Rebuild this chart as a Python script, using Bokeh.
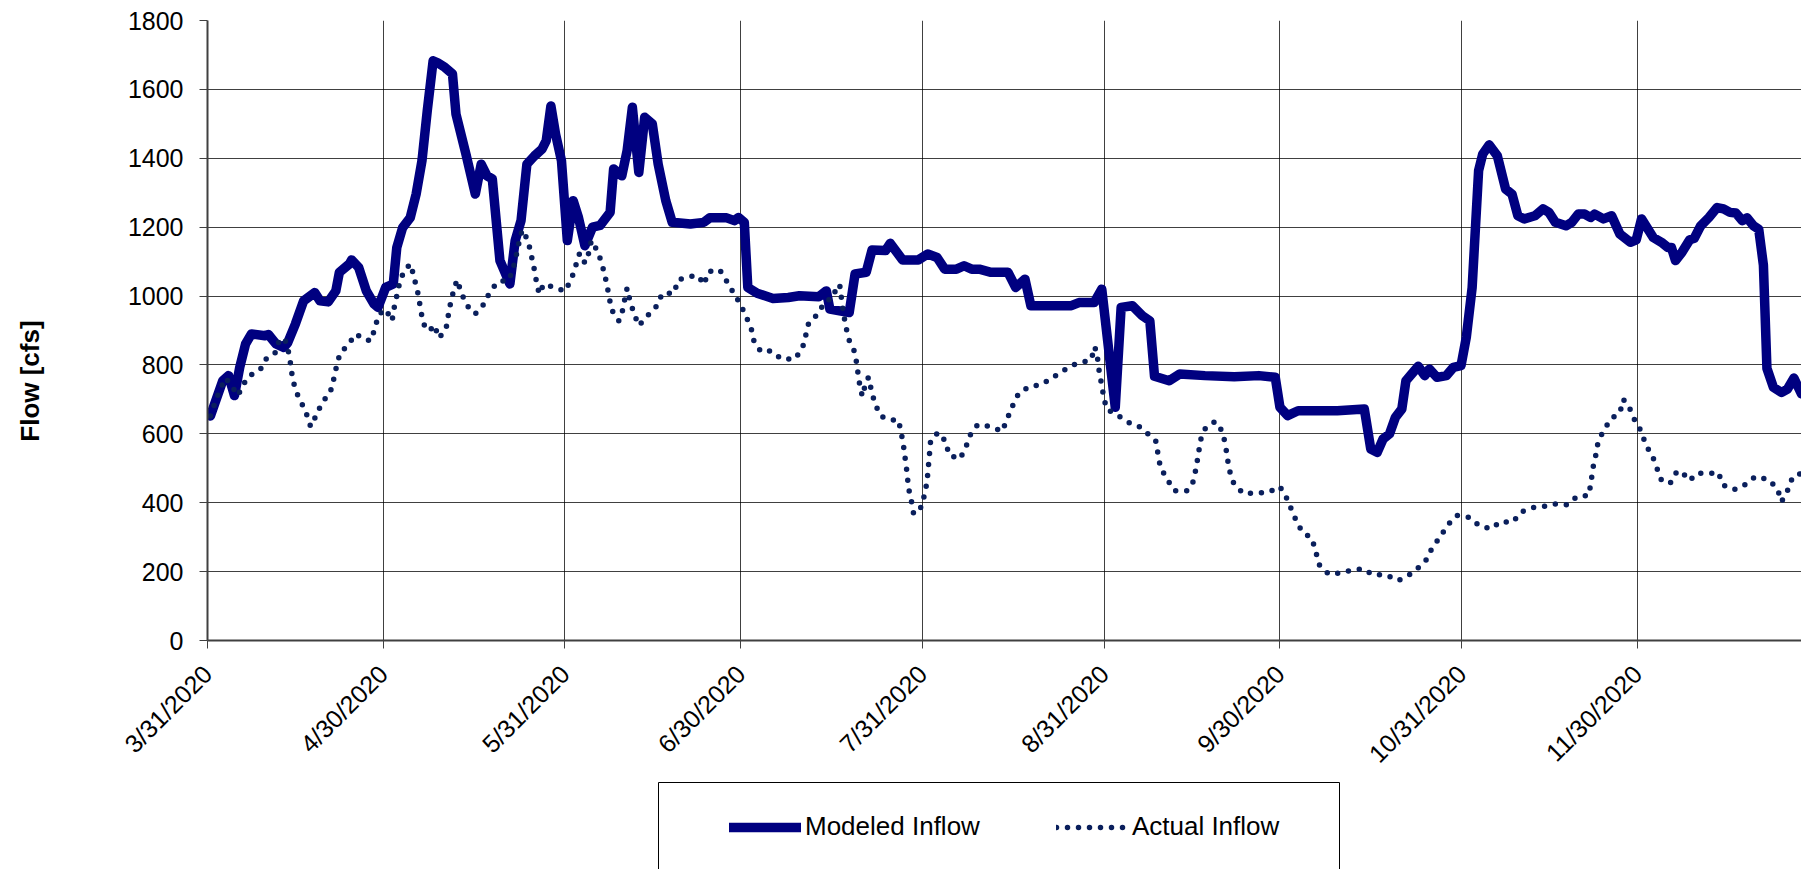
import math
from bokeh.plotting import figure
from bokeh.layouts import column
from bokeh.models import Range1d, FixedTicker, Legend, LegendItem, BoxAnnotation
from bokeh.embed import file_html
from bokeh.resources import INLINE

# x = days after 3/31/2020
tick_days = [0, 30, 61, 91, 122, 153, 183, 214, 244]
tick_labels = ["3/31/2020", "4/30/2020", "5/31/2020", "6/30/2020", "7/31/2020",
               "8/31/2020", "9/30/2020", "10/31/2020", "11/30/2020"]
y_ticks = [0, 200, 400, 600, 800, 1000, 1200, 1400, 1600, 1800]

mod_day = [0.5, 2.6, 3.6, 4.6, 5.5, 6.5, 7.5, 9.8, 10.4, 11.7,
           13.0, 13.7, 15.0, 16.4, 18.3, 19.2, 20.6, 21.9, 22.5, 24.2,
           24.6, 25.8, 27.1, 28.4, 29.1, 30.4, 31.7, 32.3, 33.3, 34.6,
           35.6, 36.6, 37.5, 38.5, 39.2, 40.5, 41.8, 42.4, 44.1, 45.7,
           46.7, 47.7, 48.6, 49.9, 51.6, 52.5, 53.5, 54.5, 55.8, 57.1,
           57.8, 58.6, 59.4, 60.4, 61.4, 62.4, 63.3, 64.4, 65.7, 67.0,
           68.7, 69.3, 70.7, 71.6, 72.5, 73.6, 74.6, 75.9, 76.9, 78.2,
           79.3, 82.4, 84.7, 85.7, 88.6, 89.9, 90.6, 91.6, 92.2, 93.8,
           96.5, 99.1, 101.0, 104.3, 105.6, 106.2, 109.5, 110.5, 112.4, 113.4,
           115.7, 116.5, 118.6, 121.3, 122.9, 124.5, 125.8, 127.8, 129.1, 130.4,
           131.7, 133.7, 136.6, 137.9, 139.5, 140.5, 143.5, 147.4, 148.7, 151.3,
           152.6, 154.9, 155.9, 157.8, 159.5, 160.8, 161.6, 164.1, 165.9, 170.2,
           175.2, 179.4, 182.2, 183.0, 184.3, 186.1, 189.3, 192.8, 197.4, 198.5,
           199.6, 200.6, 201.7, 202.7, 203.8, 204.5, 205.5, 206.6, 207.7, 208.5,
           209.8, 211.4, 212.6, 213.9, 214.8, 215.8, 216.9, 217.6, 218.7, 220.1,
           221.5, 222.6, 223.6, 224.7, 226.5, 227.9, 228.9, 230.0, 231.8, 232.8,
           233.9, 235.0, 236.0, 236.7, 238.2, 239.6, 241.0, 242.8, 243.8, 244.7,
           246.7, 248.1, 249.2, 249.8, 250.5, 251.6, 252.9, 253.7, 254.8, 256.2,
           257.6, 258.7, 259.8, 260.8, 261.9, 262.7, 263.8, 264.7, 265.5, 266.1,
           267.2, 268.6, 269.6, 270.7, 272.0]
mod_val = [652, 754, 769, 711, 793, 861, 890, 885, 888, 861,
           851, 865, 919, 986, 1010, 986, 983, 1015, 1069, 1093,
           1105, 1083, 1015, 977, 967, 1025, 1035, 1141, 1199, 1228,
           1296, 1393, 1538, 1683, 1678, 1664, 1645, 1528, 1412, 1296,
           1383, 1349, 1340, 1103, 1035, 1161, 1219, 1383, 1407, 1427,
           1451, 1552, 1470, 1393, 1161, 1277, 1228, 1146, 1200, 1205,
           1243, 1369, 1349, 1422, 1548, 1359, 1519, 1500, 1383, 1277,
           1214, 1209, 1214, 1227, 1227, 1219, 1228, 1214, 1025, 1008,
           993, 996, 1001, 998, 1015, 962, 952, 1064, 1069, 1134,
           1132, 1153, 1105, 1105, 1122, 1112, 1078, 1078, 1088, 1078,
           1078, 1069, 1069, 1025, 1049, 972, 972, 972, 981, 981,
           1020, 677, 967, 972, 943, 928, 767, 754, 774, 769,
           766, 769, 764, 677, 653, 667, 667, 667, 672, 556,
           546, 585, 600, 648, 672, 754, 774, 796, 769, 788,
           764, 769, 793, 798, 880, 1025, 1364, 1412, 1439, 1407,
           1311, 1296, 1233, 1224, 1233, 1253, 1243, 1214, 1204, 1214,
           1238, 1238, 1228, 1238, 1224, 1233, 1180, 1156, 1163, 1224,
           1170, 1156, 1141, 1141, 1103, 1127, 1163, 1168, 1204, 1228,
           1257, 1253, 1243, 1241, 1219, 1227, 1204, 1194, 1090, 790,
           735, 720, 730, 762, 716]

act_day = [0.5, 1.3, 2.1, 3.1, 4.1, 5.2, 6.1, 7.2, 9.0, 10.1,
           11.6, 12.3, 13.2, 13.8, 14.2, 14.5, 15.1, 16.1, 17.0, 17.6,
           18.6, 19.6, 20.9, 21.5, 22.0, 22.6, 24.0, 25.3, 27.0, 27.9,
           28.6, 29.2, 30.4, 31.5, 31.8, 32.3, 32.8, 33.6, 34.7, 35.2,
           35.8, 36.2, 36.6, 37.2, 38.0, 38.7, 39.5, 40.7, 41.1, 41.5,
           42.1, 42.6, 43.3, 44.2, 45.7, 47.2, 48.2, 49.6, 51.4, 52.2,
           52.7, 53.2, 53.7, 54.7, 55.2, 55.7, 56.1, 56.6, 57.4, 59.6,
           61.0, 62.1, 62.8, 63.5, 64.4, 65.0, 65.5, 66.2, 67.1, 67.7,
           68.2, 68.6, 69.2, 70.2, 70.9, 71.3, 71.6, 72.1, 72.8, 73.6,
           75.1, 76.7, 77.6, 79.6, 80.3, 81.7, 83.1, 83.8, 84.7, 85.5,
           87.4, 88.6, 89.8, 90.9, 91.9, 92.8, 93.3, 94.5, 96.1, 98.0,
           100.2, 101.5, 102.1, 102.6, 104.2, 105.3, 106.8, 107.4, 107.9, 108.2,
           108.5, 108.9, 109.4, 110.4, 110.8, 111.1, 111.5, 111.8, 112.3, 112.8,
           113.3, 113.9, 114.9, 116.7, 117.9, 118.4, 118.8, 119.1, 119.4, 119.6,
           120.1, 120.5, 121.7, 122.4, 122.8, 123.0, 123.2, 123.4, 124.7, 126.0,
           126.5, 128.4, 129.4, 130.2, 131.4, 133.7, 135.6, 136.5, 137.4, 138.4,
           140.2, 142.3, 144.1, 146.0, 147.7, 149.2, 150.8, 151.4, 151.8, 152.1,
           152.5, 152.9, 153.4, 155.4, 157.2, 159.2, 160.8, 161.8, 162.2, 162.6,
           163.8, 165.0, 167.2, 168.3, 168.7, 169.1, 169.4, 170.2, 171.9, 173.1,
           173.7, 174.0, 174.4, 175.1, 176.7, 178.9, 181.1, 183.0, 184.1, 185.0,
           185.9, 186.9, 188.4, 189.1, 189.6, 191.3, 193.2, 195.4, 197.3, 198.8,
           201.1, 203.2, 205.1, 206.8, 208.0, 209.0, 210.4, 211.6, 213.2, 215.3,
           217.1, 219.1, 220.6, 222.7, 224.2, 226.2, 228.0, 230.0, 232.0, 233.7,
           235.7, 236.1, 236.4, 236.9, 237.3, 238.3, 239.6, 241.0, 241.6, 242.6,
           243.5, 244.7, 245.4, 246.6, 247.4, 248.2, 249.7, 250.8, 252.1, 252.9,
           254.2, 256.4, 257.8, 258.6, 260.5, 262.4, 264.1, 266.4, 267.9, 268.6,
           269.7, 270.5, 272.0]
act_val = [652, 691, 728, 762, 740, 711, 743, 769, 786, 820,
           836, 875, 875, 839, 801, 761, 723, 688, 653, 621,
           655, 693, 717, 756, 795, 833, 859, 890, 873, 870,
           909, 946, 962, 928, 962, 1001, 1040, 1076, 1093, 1056,
           1018, 979, 940, 903, 901, 916, 878, 904, 945, 982,
           1023, 1047, 1010, 974, 948, 977, 1013, 1042, 1045, 1083,
           1119, 1159, 1192, 1161, 1122, 1083, 1045, 1006, 1035, 1023,
           1014, 1049, 1086, 1124, 1096, 1122, 1161, 1141, 1105, 1068,
           1029, 990, 952, 928, 962, 1001, 1023, 986, 948, 914,
           943, 972, 1008, 1008, 1047, 1054, 1059, 1058, 1033, 1071,
           1076, 1043, 1008, 977, 941, 904, 865, 838, 841, 817,
           817, 847, 887, 923, 948, 983, 996, 1033, 1030, 991,
           952, 914, 875, 839, 803, 762, 723, 709, 749, 764,
           725, 687, 651, 640, 640, 601, 561, 522, 483, 444,
           406, 367, 386, 425, 464, 503, 541, 582, 604, 577,
           539, 527, 561, 598, 626, 621, 607, 645, 682, 717,
           737, 743, 762, 783, 800, 807, 815, 853, 830, 788,
           749, 711, 672, 653, 633, 619, 595, 580, 541, 503,
           467, 435, 435, 464, 503, 541, 580, 614, 636, 609,
           570, 532, 493, 457, 427, 428, 431, 447, 415, 379,
           343, 313, 298, 261, 222, 193, 196, 205, 208, 191,
           191, 174, 191, 214, 235, 270, 302, 335, 363, 357,
           332, 324, 345, 343, 373, 386, 389, 396, 394, 418,
           421, 461, 500, 538, 577, 612, 645, 661, 700, 677,
           641, 606, 569, 534, 497, 461, 459, 493, 480, 464,
           486, 485, 488, 451, 438, 453, 476, 467, 440, 403,
           438, 475, 486]

FONT = "Liberation Sans"
MOD_STYLE = dict(line_color="#000080", line_width=9.5, line_join="round", line_cap="round")
ACT_STYLE = dict(line_color="#0a1f5c", line_width=5.5, line_dash="0 11",
                 line_cap="round", line_join="round")

# ---- main chart ----
p = figure(width=1801, height=780, output_backend="svg", toolbar_location=None,
           x_range=Range1d(0, 272.0), y_range=Range1d(0, 1800),
           min_border_left=207, min_border_right=0, min_border_top=20,
           min_border_bottom=140)
p.outline_line_color = None
p.background_fill_color = "white"
p.border_fill_color = "white"

for ax in (p.xaxis[0], p.yaxis[0]):
    ax.axis_line_color = "#404040"
    ax.axis_line_width = 2
    ax.major_tick_line_color = "#404040"
    ax.major_tick_line_width = 1
    ax.major_tick_out = 8
    ax.major_tick_in = 0
    ax.minor_tick_line_color = None
    ax.major_label_text_font = FONT
    ax.major_label_text_font_size = "25px"
    ax.major_label_text_color = "black"

p.xaxis.ticker = FixedTicker(ticks=tick_days)
p.xaxis.major_label_overrides = {d: s for d, s in zip(tick_days, tick_labels)}
p.xaxis.major_label_orientation = math.pi / 4
p.xaxis.major_label_standoff = 21
p.yaxis.ticker = FixedTicker(ticks=y_ticks)
p.yaxis.major_label_standoff = 16

# y-axis title; trailing no-break spaces move the visible text below the frame centre
p.yaxis.axis_label = "Flow [cfs]" + "\u00a0" * 14
p.yaxis.axis_label_standoff = 80
p.yaxis.axis_label_text_font = FONT
p.yaxis.axis_label_text_font_style = "bold"
p.yaxis.axis_label_text_font_size = "26px"
p.yaxis.axis_label_text_color = "black"

p.xgrid.ticker = FixedTicker(ticks=tick_days)
p.ygrid.ticker = FixedTicker(ticks=y_ticks)
for g in (p.xgrid[0], p.ygrid[0]):
    g.grid_line_color = "black"
    g.grid_line_alpha = 0.75
    g.grid_line_width = 1

p.line(mod_day, mod_val, **MOD_STYLE)
p.line(act_day, act_val, **ACT_STYLE)

# ---- legend strip below the chart (its frame is aligned with the chart frame) ----
pl = figure(width=1801, height=89, output_backend="svg", toolbar_location=None,
            x_axis_location=None, y_axis_location=None,
            x_range=Range1d(-2, -1), y_range=Range1d(-2, -1),
            min_border_left=0, min_border_right=0, min_border_top=0, min_border_bottom=0)
pl.outline_line_color = None
pl.grid.visible = False
# same series, outside this strip's ranges: only their legend samples show
lm = pl.line(mod_day, mod_val, **MOD_STYLE)
la = pl.line(act_day, act_val, **ACT_STYLE)

legend = Legend(items=[LegendItem(label="Modeled Inflow", renderers=[lm]),
                       LegendItem(label="Actual Inflow", renderers=[la])],
                orientation="horizontal", location=(522, 27), padding=10,
                spacing=76, glyph_width=72, glyph_height=20, label_standoff=4,
                label_text_font=FONT, label_text_font_size="26px",
                label_text_color="black",
                border_line_color=None, background_fill_alpha=0, margin=0)
pl.add_layout(legend)

box = BoxAnnotation(left=451, right=1132, top=87, bottom=-20,
                    left_units="screen", right_units="screen",
                    top_units="screen", bottom_units="screen",
                    fill_color=None, fill_alpha=0, line_color="black",
                    line_alpha=1, line_width=1)
pl.add_layout(box)

open("out.html", "w").write(file_html(column(p, pl, spacing=0), INLINE))
